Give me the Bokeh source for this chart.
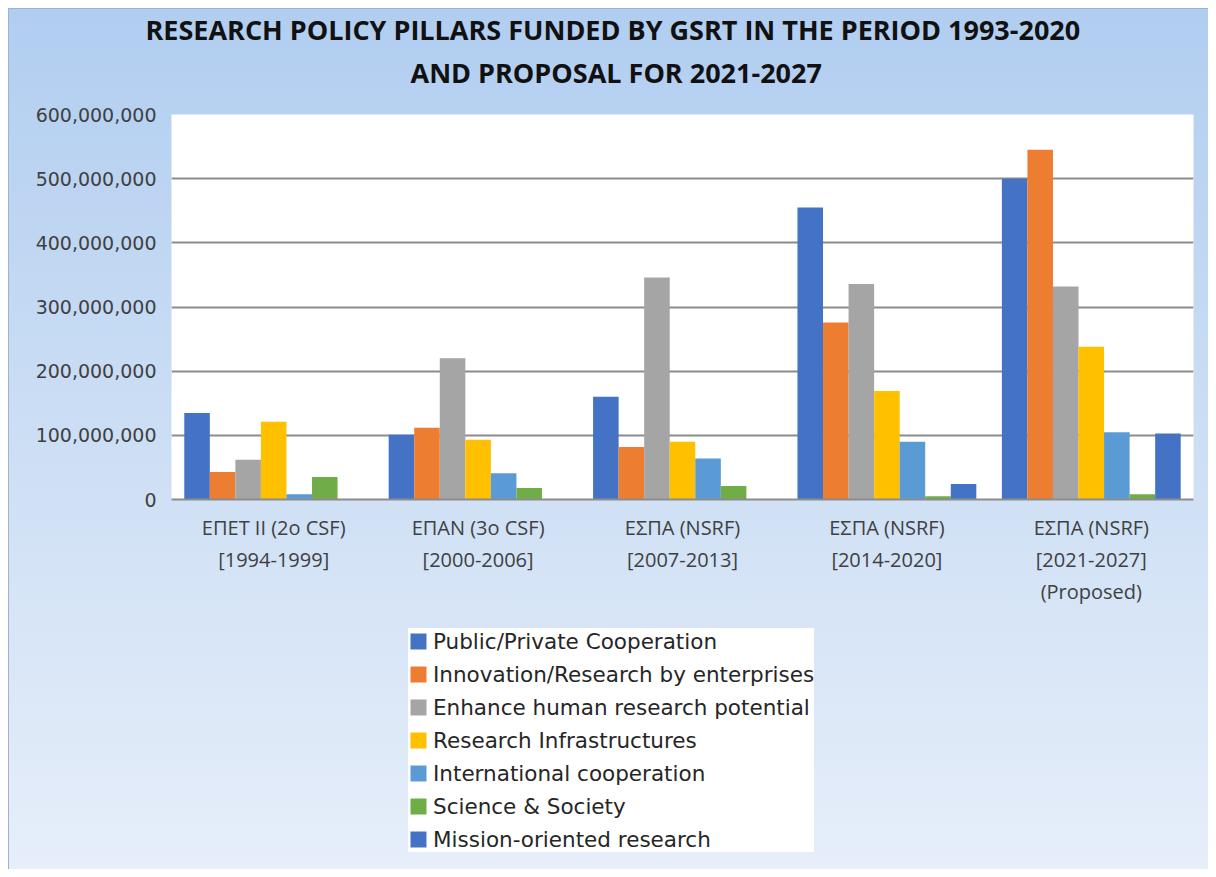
from bokeh.plotting import figure
from bokeh.layouts import column
from bokeh.models import (ColumnDataSource, Range1d, FactorRange, Title, Legend, LegendItem,
                          NumeralTickFormatter, SingleIntervalTicker)
from bokeh.transform import dodge
from bokeh.embed import file_html
from bokeh.resources import INLINE

# ---------------- data ----------------
categories = [
    "ΕΠΕΤ II (2ο CSF)\n[1994-1999]",
    "ΕΠΑΝ (3ο CSF)\n[2000-2006]",
    "ΕΣΠΑ (NSRF)\n[2007-2013]",
    "ΕΣΠΑ (NSRF)\n[2014-2020]",
    "ΕΣΠΑ (NSRF)\n[2021-2027]\n(Proposed)",
]
series_names = [
    "Public/Private Cooperation",
    "Innovation/Research by enterprises",
    "Enhance human research potential",
    "Research Infrastructures",
    "International cooperation",
    "Science & Society",
    "Mission-oriented research",
]
public_private = [135e6, 101e6, 160e6, 455e6, 500e6]
innovation = [43e6, 112e6, 82e6, 276e6, 545e6]
human_potential = [62e6, 220e6, 346e6, 336e6, 332e6]
infrastructures = [121e6, 93e6, 90e6, 169e6, 238e6]
international = [8e6, 41e6, 64e6, 90e6, 105e6]
science_society = [35e6, 18e6, 21e6, 5e6, 8e6]
mission_oriented = [0, 0, 0, 24e6, 103e6]

title_line1 = "RESEARCH POLICY PILLARS FUNDED BY GSRT IN THE PERIOD 1993-2020"
title_line2 = "AND PROPOSAL FOR 2021-2027"

colors = ["#4472C4", "#ED7D31", "#A5A5A5", "#FFC000", "#5B9BD5", "#70AD47", "#4472C4"]

cols = ["s0", "s1", "s2", "s3", "s4", "s5", "s6"]
source = ColumnDataSource(dict(
    cat=categories,
    s0=public_private, s1=innovation, s2=human_potential, s3=infrastructures,
    s4=international, s5=science_society, s6=mission_oriented,
))

# ---------------- main chart ----------------
fig = figure(
    width=1208, height=627,
    x_range=FactorRange(*categories, range_padding=0),
    y_range=Range1d(0, 600e6),
    output_backend="svg", toolbar_location=None, title=None,
    min_border_left=171, min_border_right=15, min_border_top=114, min_border_bottom=128,
)
fig.border_fill_color = None
fig.background_fill_color = "white"
fig.outline_line_color = None

bw = 0.125
for i, c in enumerate(cols):
    fig.vbar(x=dodge("cat", (i - 3) * bw, range=fig.x_range), top=c, width=bw,
             source=source, fill_color=colors[i], line_color=None)

fig.yaxis.ticker = SingleIntervalTicker(interval=100e6)
fig.yaxis.formatter = NumeralTickFormatter(format="0,0")
fig.yaxis.axis_line_color = None
fig.yaxis.major_tick_line_color = None
fig.yaxis.minor_tick_line_color = None
fig.yaxis.major_label_text_font = "DejaVu Sans"
fig.yaxis.major_label_text_font_size = "19px"
fig.yaxis.major_label_text_color = "#404040"
fig.yaxis.major_label_standoff = 9

fig.xaxis.axis_line_color = "#8c8c8c"
fig.xaxis.axis_line_width = 2
fig.xaxis.major_tick_line_color = None
fig.xaxis.minor_tick_line_color = None
fig.xaxis.major_label_text_font = "Open Sans"
fig.xaxis.major_label_text_font_size = "20px"
fig.xaxis.major_label_text_color = "#404040"
fig.xaxis.major_label_standoff = 8

fig.xgrid.grid_line_color = None
fig.ygrid.grid_line_color = "#8c8c8c"
fig.ygrid.grid_line_width = 2

# title: spacer nearest to the plot, then line 2, then line 1
fig.add_layout(Title(text=" ", text_font_size="12px", standoff=6), "above")
for txt, off in [(title_line2, 239), (title_line1, -26)]:
    fig.add_layout(Title(text=txt, align="left", offset=off,
                         text_font="Open Sans", text_font_style="bold",
                         text_font_size="27px", text_color="#111111", standoff=4), "above")

# ---------------- legend panel (same frame width as the chart) ----------------
leg = figure(
    width=1208, height=242,
    x_range=Range1d(0, 1), y_range=Range1d(0, 1),
    output_backend="svg", toolbar_location=None, title=None,
    x_axis_location=None, y_axis_location=None,
    min_border_left=171, min_border_right=15, min_border_top=0, min_border_bottom=0,
)
leg.border_fill_color = None
leg.background_fill_color = None
leg.outline_line_color = None
leg.grid.visible = False

swatches = []
for i in range(len(series_names)):
    swatches.append(leg.vbar(x=[0], top=[0], bottom=[0], width=0,
                             fill_color=colors[i], line_color=None))

legend = Legend(
    items=[LegendItem(label=n, renderers=[r]) for n, r in zip(series_names, swatches)],
    location=(237, 17),
    orientation="vertical",
    background_fill_color="white", background_fill_alpha=1.0,
    border_line_color=None,
    padding=8, margin=0, spacing=7,
    glyph_width=20, glyph_height=20, label_height=26, label_standoff=5,
    label_text_font="DejaVu Sans", label_text_font_size="21.5px", label_text_color="#262626",
)
leg.add_layout(legend, "center")

p = column(fig, leg, spacing=0)
p.styles = {
    "background": "linear-gradient(180deg, #b0cdf0 0%, #cfe0f5 55%, #e6eefa 100%)",
    "box-shadow": "inset 8px 8px 0 0 white, inset 9px 9px 0 0 #9fb3cb",
}

open("out.html", "w").write(file_html(p, INLINE))
